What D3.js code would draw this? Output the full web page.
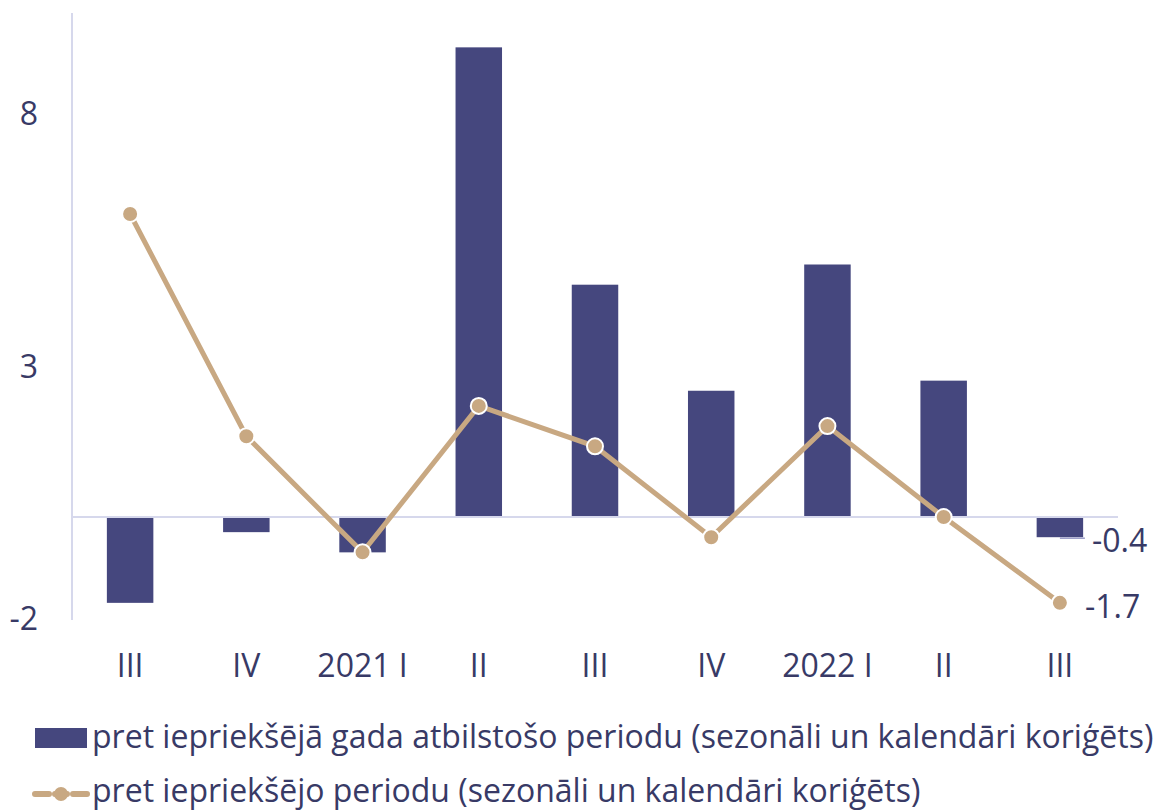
<!DOCTYPE html>
<html>
<head>
<meta charset="utf-8">
<script src="https://cdn.jsdelivr.net/npm/d3@7"></script>
<style>
  body { margin: 0; background: #fff; }
  text { font-family: "Open Sans", sans-serif; fill: #383a66; }
</style>
</head>
<body>
<div id="chart"></div>
<script>
var width = 1158,
    height = 811;

var categories = ["III", "IV", "2021 I", "II", "III", "IV", "2022 I", "II", "III"];
var yearValues = [-1.7, -0.3, -0.7, 9.3, 4.6, 2.5, 5.0, 2.7, -0.4];
var periodValues = [6.0, 1.6, -0.7, 2.2, 1.4, -0.4, 1.8, 0.0, -1.7];
var yTicks = [-2, 3, 8];
var legendLabels = [
  "pret iepriekšējā gada atbilstošo periodu (sezonāli un kalendāri koriģēts)",
  "pret iepriekšējo periodu (sezonāli un kalendāri koriģēts)"
];

var barColor = "#45477e",
    lineColor = "#c8a882",
    gridColor = "#d6d8ec",
    fontSize = "32px";

var svg = d3.select("#chart").append("svg")
    .attr("width", width)
    .attr("height", height);

var x = d3.scaleBand()
    .domain(d3.range(categories.length))
    .range([72, 1118])
    .paddingInner(0.6)
    .paddingOuter(0.3);

var y = d3.scaleLinear()
    .domain([-2, 8])
    .range([618, 113]);

var fmt = function(d) { return d3.format(".1f")(d).replace("\u2212", "-"); };

// axis lines
svg.append("line")
    .attr("x1", 72).attr("x2", 72)
    .attr("y1", 13).attr("y2", 620)
    .attr("stroke", gridColor).attr("stroke-width", 2);

svg.selectAll(".ytick")
    .data(yTicks)
  .enter().append("text")
    .attr("class", "ytick")
    .attr("x", 38)
    .attr("y", function(d) { return y(d) + 12; })
    .attr("text-anchor", "end")
    .style("font-size", fontSize)
    .text(function(d) { return d; });

// bars
svg.selectAll(".bar")
    .data(yearValues)
  .enter().append("rect")
    .attr("class", "bar")
    .attr("x", function(d, i) { return x(i); })
    .attr("width", x.bandwidth())
    .attr("y", function(d) { return y(Math.max(0, d)); })
    .attr("height", function(d) { return Math.abs(y(d) - y(0)); })
    .attr("fill", barColor);

svg.append("line")
    .attr("x1", 72).attr("x2", 1118)
    .attr("y1", y(0)).attr("y2", y(0))
    .attr("stroke", gridColor).attr("stroke-width", 2);

// x labels
svg.selectAll(".xlab")
    .data(categories)
  .enter().append("text")
    .attr("class", "xlab")
    .attr("x", function(d, i) { return x(i) + x.bandwidth() / 2; })
    .attr("y", 677)
    .attr("text-anchor", "middle")
    .style("font-size", fontSize)
    .text(function(d) { return d; });

// line
var line = d3.line()
    .x(function(d, i) { return x(i) + x.bandwidth() / 2; })
    .y(function(d) { return y(d); });

svg.append("path")
    .datum(periodValues)
    .attr("d", line)
    .attr("fill", "none")
    .attr("stroke", lineColor)
    .attr("stroke-width", 5);

svg.selectAll(".dot")
    .data(periodValues)
  .enter().append("circle")
    .attr("class", "dot")
    .attr("cx", function(d, i) { return x(i) + x.bandwidth() / 2; })
    .attr("cy", function(d) { return y(d); })
    .attr("r", 8)
    .attr("fill", lineColor)
    .attr("stroke", "#fff")
    .attr("stroke-width", 2);

// end labels
var last = categories.length - 1,
    lx = x(last) + x.bandwidth() / 2;

svg.append("line")
    .attr("x1", lx).attr("x2", lx + 25)
    .attr("y1", y(yearValues[last]) + 1).attr("y2", y(yearValues[last]) + 1)
    .attr("stroke", "#9a9cc8").attr("stroke-width", 1.5);

svg.append("text")
    .attr("x", lx + 32)
    .attr("y", y(yearValues[last]) + 15)
    .style("font-size", fontSize)
    .text(fmt(yearValues[last]));

svg.append("text")
    .attr("x", lx + 25)
    .attr("y", y(periodValues[last]) + 15)
    .style("font-size", fontSize)
    .text(fmt(periodValues[last]));

// legend
var legend = svg.append("g");

legend.append("rect")
    .attr("x", 35).attr("y", 728)
    .attr("width", 52).attr("height", 20)
    .attr("fill", barColor);

legend.append("line")
    .attr("x1", 35).attr("x2", 87)
    .attr("y1", 794).attr("y2", 794)
    .attr("stroke", lineColor).attr("stroke-width", 6)
    .attr("stroke-dasharray", "14,6,12,6,14")
    .attr("stroke-linecap", "round");

legend.append("circle")
    .attr("cx", 61).attr("cy", 794).attr("r", 7)
    .attr("fill", lineColor);

legend.selectAll(".leg")
    .data(legendLabels)
  .enter().append("text")
    .attr("class", "leg")
    .attr("x", 92)
    .attr("y", function(d, i) { return 748 + i * 54; })
    .style("font-size", fontSize)
    .text(function(d) { return d; });
</script>
</body>
</html>
